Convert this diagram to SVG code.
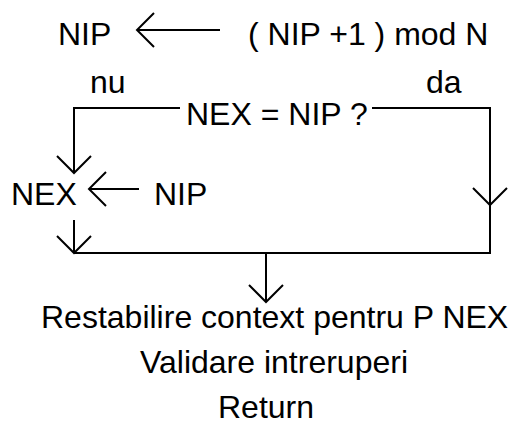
<svg xmlns="http://www.w3.org/2000/svg" width="516" height="430" viewBox="0 0 516 430">
<style>
text{font-family:"Liberation Sans",Arial,sans-serif;font-size:32px;fill:#000}
.c{fill:none;stroke:#000;stroke-width:2}
</style>
<defs>
<marker id="ah" markerUnits="userSpaceOnUse" viewBox="-20 -20 22 40" refX="0" refY="0" markerWidth="22" markerHeight="40" orient="auto" overflow="visible">
<path d="M-17,-17 L0,0 L-17,17" fill="none" stroke="#000" stroke-width="2"/>
</marker>
</defs>
<rect width="516" height="430" fill="#fff"/>
<g id="n-assign1"><text x="58" y="45">NIP</text><text x="248" y="45">( NIP +1 ) mod N</text></g>
<g id="n-decision"><text x="186" y="125">NEX = NIP ?</text><text x="90" y="93">nu</text><text x="426" y="93">da</text></g>
<g id="n-assign2"><text x="11" y="205">NEX</text><text x="154" y="205">NIP</text></g>
<g id="n-end"><text x="41" y="328">Restabilire context pentru P NEX</text><text x="140" y="373">Validare intreruperi</text><text x="218" y="418">Return</text></g>
<g id="connectors">
<path class="c" d="M220,30 H137" marker-end="url(#ah)"/>
<path class="c" d="M180,108 H74 V173" marker-end="url(#ah)"/>
<path class="c" d="M372,108 H490 V205" marker-end="url(#ah)"/>
<path class="c" d="M490,205 V253 H74"/>
<path class="c" d="M139,189 H89" marker-end="url(#ah)"/>
<path class="c" d="M74,220 V253" marker-end="url(#ah)"/>
<path class="c" d="M266,253 V302" marker-end="url(#ah)"/>
</g>
</svg>
